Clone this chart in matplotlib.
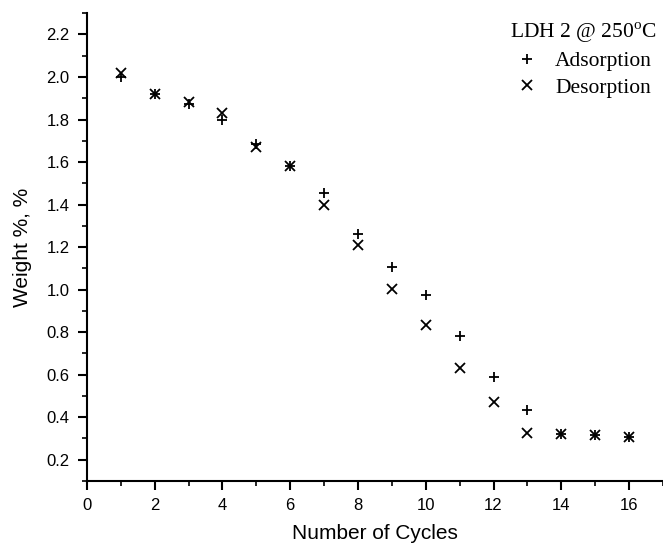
import matplotlib
matplotlib.use("Agg")
import matplotlib.pyplot as plt
from matplotlib.ticker import MultipleLocator

plt.rcParams['font.family'] = ['Liberation Sans', 'DejaVu Sans']
plt.rcParams['mathtext.fontset'] = 'custom'
plt.rcParams['mathtext.rm'] = 'Liberation Serif'

# Data
cycles = [1, 2, 3, 4, 5, 6, 7, 8, 9, 10, 11, 12, 13, 14, 15, 16]
adsorption = [2.00, 1.92, 1.873, 1.80, 1.684, 1.582, 1.455, 1.263, 1.106, 0.972,
              0.783, 0.587, 0.433, 0.322, 0.316, 0.308]
desorption = [2.018, 1.92, 1.884, 1.829, 1.672, 1.582, 1.397, 1.208, 1.004, 0.831,
              0.629, 0.469, 0.325, 0.322, 0.316, 0.308]

fig = plt.figure(figsize=(6.63, 5.52), dpi=100)
ax = fig.add_axes([0.131, 0.129, 0.869, 0.847])

ax.plot(cycles, adsorption, linestyle='none', marker='+', markersize=7.5,
        markeredgewidth=1.3, color='black', label='Adsorption')
ax.plot(cycles, desorption, linestyle='none', marker='x', markersize=7.5,
        markeredgewidth=1.3, color='black', label='Desorption')

ax.set_xlim(0, 17)
ax.set_ylim(0.1, 2.3)
ax.xaxis.set_major_locator(MultipleLocator(2))
ax.xaxis.set_minor_locator(MultipleLocator(1))
ax.yaxis.set_major_locator(MultipleLocator(0.2))
ax.yaxis.set_minor_locator(MultipleLocator(0.1))
ax.yaxis.set_major_formatter(matplotlib.ticker.FormatStrFormatter('%.1f'))

for side in ['top', 'right']:
    ax.spines[side].set_visible(False)
for side in ['left', 'bottom']:
    ax.spines[side].set_linewidth(1.5)

ax.tick_params(which='major', direction='out', length=6.5, width=1.5,
               labelsize=12, pad=6)
ax.tick_params(which='minor', direction='out', length=3.5, width=1.2)

ax.set_xlabel('Number of Cycles', fontsize=15, labelpad=8)
ax.set_ylabel('Weight %, %', fontsize=15, labelpad=10)

leg = ax.legend(title=r'LDH 2 @ 250$^{\mathrm{o}}$C', loc='upper right',
                bbox_to_anchor=(1.015, 1.017), frameon=False,
                prop={'family': 'Liberation Serif', 'size': 15.5},
                handletextpad=0.5, handlelength=1.6, labelspacing=0.3,
                alignment='left', borderpad=0.2)
leg.get_title().set_fontfamily('Liberation Serif')
leg.get_title().set_fontsize(15.5)

fig.savefig('out.png', dpi=100)
